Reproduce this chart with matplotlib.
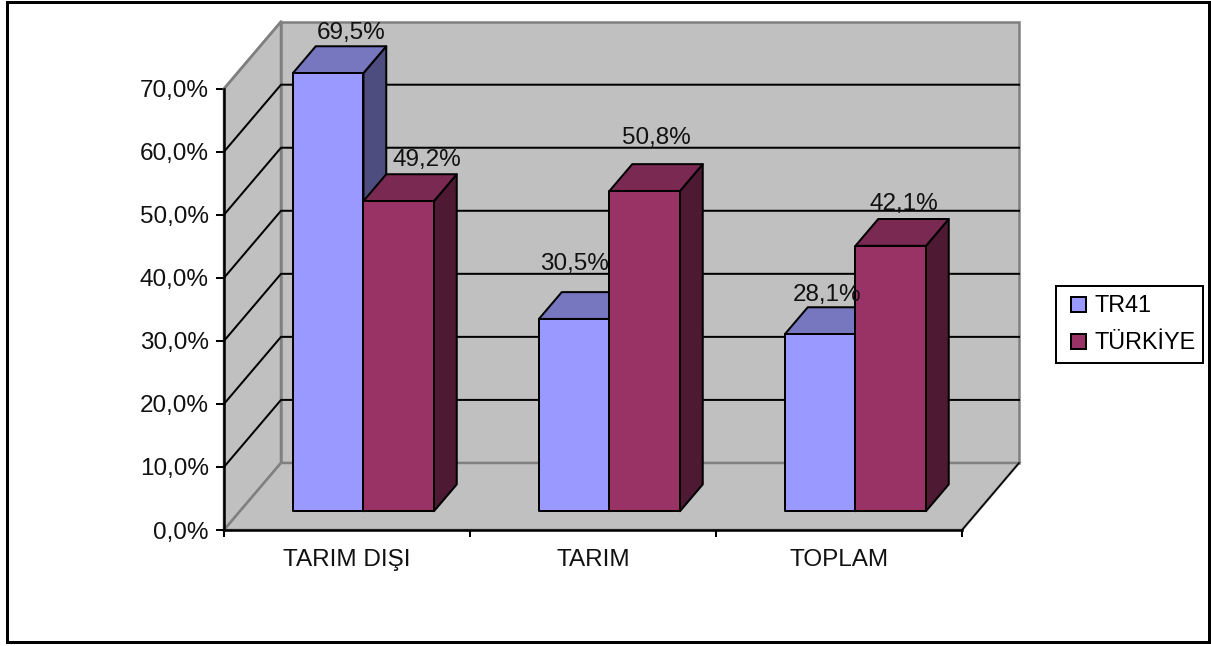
#!/usr/bin/env python3
import matplotlib
matplotlib.use('Agg')
import matplotlib.pyplot as plt
from matplotlib.patches import Patch, Polygon, Rectangle

plt.rcParams['font.family'] = ['Liberation Sans', 'DejaVu Sans']

W, H = 1211, 646

categories = ['TARIM DIŞI', 'TARIM', 'TOPLAM']
series_names = ['TR41', 'TÜRKİYE']
tr41 = [69.5, 30.5, 28.1]
turkiye = [49.2, 50.8, 42.1]
y_ticks = [0, 10, 20, 30, 40, 50, 60, 70]

# look of the fake 3d box
WALL = '#c0c0c0'
EDGE = '#808080'
BLUE = ['#9999ff', '#7777c0', '#4d4d80']
MAROON = ['#993366', '#7a2952', '#4d1933']
FS = 17.5
# how far one unit of depth moves things, in data units
DX = 57 / 246
DV = 67 / 6.3

# offset of each value label from the back of the bar top, in pixels
blue_off = [(0, 13), (-23, 28), (-16, 12)]
maroon_off = [(5, 14), (-11, 26), (-10, 15)]


def pt(x, v, d=0.0):
    return (x + d * DX, v + d * DV)


def px(n):
    return n * 72 / 100


fig = plt.figure(figsize=(W / 100, H / 100), dpi=100)
ax = fig.add_axes([224 / W, (H - 530) / H, 738 / W, 441.3 / H])
ax.set_xlim(0, 3)
ax.set_ylim(0, 70)
ax.patch.set_visible(False)

# outer frame
fig.add_artist(Rectangle((7 / W, (H - 642) / H), 1202 / W, 640 / H, transform=fig.transFigure,
                         fill=False, ec='black', lw=px(3)))

# walls and floor
left_wall = [pt(0, 0), pt(0, 70), pt(0, 70, 1), pt(0, 0, 1)]
back_wall = [pt(0, 0, 1), pt(0, 70, 1), pt(3, 70, 1), pt(3, 0, 1)]
floor = [pt(0, 0), pt(0, 0, 1), pt(3, 0, 1), pt(3, 0)]
for poly in [left_wall, back_wall, floor]:
    ax.add_patch(Polygon(poly, closed=True, fc=WALL, ec=EDGE, lw=px(2.5), clip_on=False, zorder=1))

# black edge on the right side of the floor
xs, ys = zip(pt(3, 0), pt(3, 0, 1))
ax.plot(xs, ys, color='black', lw=px(1.5), clip_on=False, zorder=1.5)

# grid lines go along the side wall and then along the back wall
for v in y_ticks[1:-1]:
    xs, ys = zip(pt(0, v), pt(0, v, 1), pt(3, v, 1))
    ax.plot(xs, ys, color='black', lw=px(2), clip_on=False, zorder=2)
xs, ys = zip(pt(0, 70), pt(0, 70, 1))
ax.plot(xs, ys, color=EDGE, lw=px(2.5), clip_on=False, zorder=2)


def box(x0, w, v, colors):
    d0, d1 = 0.28, 0.68
    x1 = x0 + w
    front = [pt(x0, 0, d0), pt(x0, v, d0), pt(x1, v, d0), pt(x1, 0, d0)]
    top = [pt(x0, v, d0), pt(x0, v, d1), pt(x1, v, d1), pt(x1, v, d0)]
    side = [pt(x1, 0, d0), pt(x1, v, d0), pt(x1, v, d1), pt(x1, 0, d1)]
    for poly, c in zip([side, top, front], [colors[2], colors[1], colors[0]]):
        ax.add_patch(Polygon(poly, closed=True, fc=c, ec='black', lw=px(2), clip_on=False,
                             zorder=3, joinstyle='round'))
    return pt(x0 + w / 2, v, d1)


bar_w = 0.2866
for i in range(len(categories)):
    x0 = i + 0.2154
    tip = box(x0, bar_w, tr41[i], BLUE)
    ax.annotate(f'{tr41[i]:.1f}%'.replace('.', ','), tip, xytext=(px(blue_off[i][0]), px(blue_off[i][1])),
                textcoords='offset points', ha='center', va='center', fontsize=FS, color='#111111',
                annotation_clip=False, zorder=5)
    tip = box(x0 + bar_w, bar_w, turkiye[i], MAROON)
    ax.annotate(f'{turkiye[i]:.1f}%'.replace('.', ','), tip, xytext=(px(maroon_off[i][0]), px(maroon_off[i][1])),
                textcoords='offset points', ha='center', va='center', fontsize=FS, color='#111111',
                annotation_clip=False, zorder=5)

# axes on the front of the box
for s in ['top', 'right']:
    ax.spines[s].set_visible(False)
for s in ['left', 'bottom']:
    ax.spines[s].set_linewidth(px(2.5))
    ax.spines[s].set_zorder(4)

ax.set_yticks(y_ticks)
ax.set_yticklabels([f'{v:.1f}%'.replace('.', ',') for v in y_ticks], fontsize=FS, color='#111111')
ax.tick_params(axis='y', length=px(8), width=px(2), pad=px(7))
ax.set_xticks([0, 1, 2, 3])
ax.set_xticklabels([])
ax.tick_params(axis='x', which='major', length=px(7), width=px(2))
ax.set_xticks([0.5, 1.5, 2.5], minor=True)
ax.set_xticklabels(categories, minor=True, fontsize=FS, color='#111111')
ax.tick_params(axis='x', which='minor', length=0, pad=px(19))

handles = [Patch(fc=BLUE[0], ec='black', lw=px(2)), Patch(fc=MAROON[0], ec='black', lw=px(2))]
leg = fig.legend(handles, series_names, loc='upper left',
                 bbox_to_anchor=(1056 / W, (H - 360) / H, 147 / W, 74 / H), mode='expand',
                 frameon=True, fancybox=False, edgecolor='black', framealpha=1, fontsize=16.8,
                 handlelength=0.97, handleheight=0.6, handletextpad=0.33, labelspacing=0.6,
                 borderaxespad=0, borderpad=0.36)
leg.get_frame().set_linewidth(px(2))
# nudge the swatches in so they sit further from the frame than the text does from the top
for p in leg.get_patches():
    p.set_x(p.get_x() + px(7))
    p.set_width(px(15))

fig.savefig('out.png', dpi=100)
